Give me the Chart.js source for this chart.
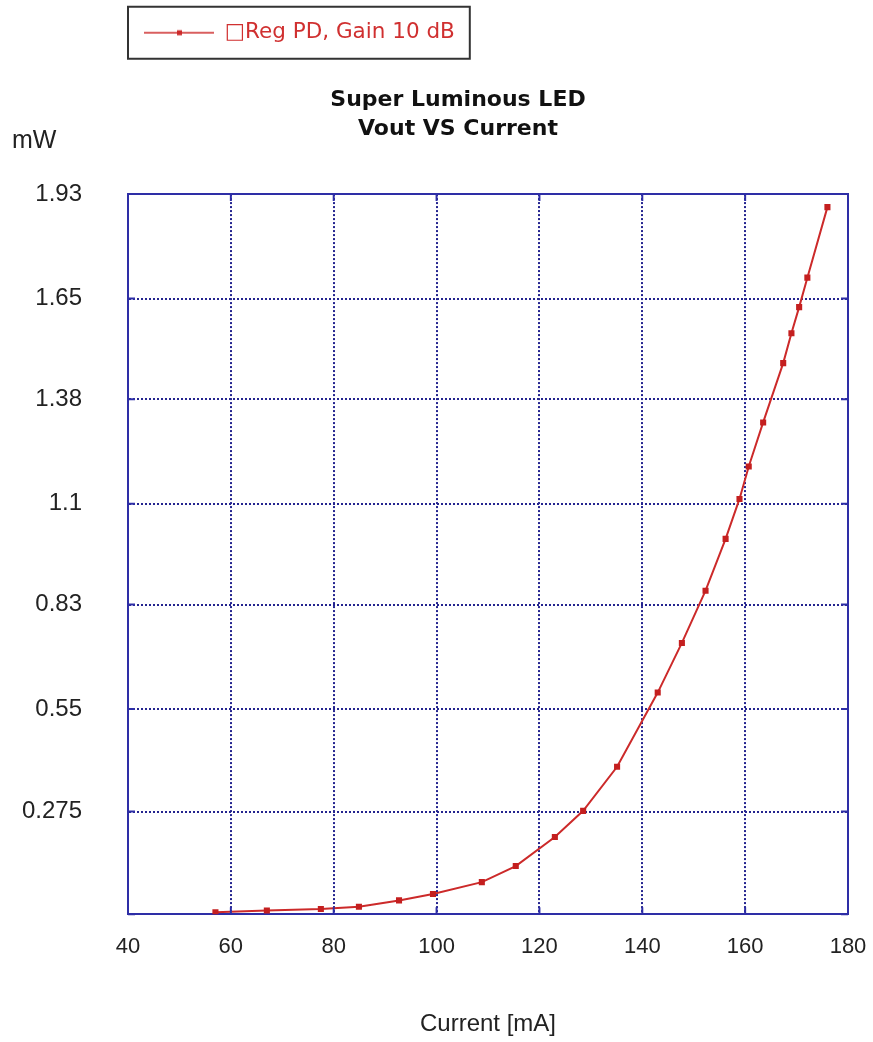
<!DOCTYPE html>
<html>
<head>
<meta charset="utf-8">
<script src="https://cdn.jsdelivr.net/npm/chart.js@4.4.1/dist/chart.umd.min.js"></script>
<style>
  html, body { margin: 0; padding: 0; background: #fff; }
  #wrap { width: 873px; height: 1042px; }
</style>
</head>
<body>
<div id="wrap"><canvas id="ledChart"></canvas></div>
<script>
// Values
const currentMA = [57.0, 67.0, 77.5, 84.9, 92.7, 99.3, 108.8, 115.4, 123.0, 128.5, 135.1, 143.0,
                   147.7, 152.3, 156.2, 158.9, 160.7, 163.5, 167.4, 169.0, 170.5, 172.1, 176.0];
const powerMW = [0.005, 0.010, 0.014, 0.020, 0.037, 0.054, 0.086, 0.129, 0.207, 0.277, 0.395, 0.594,
                 0.727, 0.867, 1.006, 1.113, 1.200, 1.318, 1.477, 1.557, 1.627, 1.706, 1.895];
const xTickValues = [40, 60, 80, 100, 120, 140, 160, 180];
const yTickValues = [0, 0.275, 0.55, 0.83, 1.1, 1.38, 1.65, 1.93];
const yTickLabels = ["", "0.275", "0.55", "0.83", "1.1", "1.38", "1.65", "1.93"];
const seriesLabel = "\u25A1Reg PD, Gain 10 dB";
const titleLines = ["Super Luminous LED", "Vout VS Current"];
const xTitle = "Current [mA]";
const yUnit = "mW";

const red = "#cc2a2a";
const axisBlue = "#2e2ea6";
const gridBlue = "#24248f";
const ctx = document.getElementById("ledChart");

// little line-with-dot picture used as the legend symbol
const legendSymbol = document.createElement("canvas");
legendSymbol.width = 70;
legendSymbol.height = 10;
const lctx = legendSymbol.getContext("2d");
lctx.strokeStyle = red;
lctx.lineWidth = 1.5;
lctx.beginPath();
lctx.moveTo(0, 5);
lctx.lineTo(70, 5);
lctx.stroke();
lctx.fillStyle = red;
lctx.fillRect(33, 2.5, 5, 5);

// legend sits in a framed box, unit label above the y axis,
// and short tick marks point into the plot from every side
const chartDecor = {
  id: "chartDecor",
  beforeDraw(chart) {
    const lg = chart.legend;
    lg.left = 144 - lg.options.labels.padding;
    // let the y labels spill left of the layout padding
    chart.scales.y.left = 0;
  },
  afterDatasetsDraw(chart) {
    const c = chart.ctx;
    const a = chart.chartArea;
    const xs = chart.scales.x;
    const ys = chart.scales.y;
    const len = 7;
    c.save();
    c.strokeStyle = axisBlue;
    c.lineWidth = 2;
    c.beginPath();
    xTickValues.forEach(v => {
      const px = xs.getPixelForValue(v);
      c.moveTo(px, a.bottom); c.lineTo(px, a.bottom - len);
      c.moveTo(px, a.top); c.lineTo(px, a.top + len);
    });
    yTickValues.forEach(v => {
      const py = ys.getPixelForValue(v);
      c.moveTo(a.left, py); c.lineTo(a.left + len, py);
      c.moveTo(a.right, py); c.lineTo(a.right - len, py);
    });
    c.stroke();
    c.restore();
  },
  afterDraw(chart) {
    const lg = chart.legend;
    const c = chart.ctx;
    const pad = lg.options.labels.padding;
    const size = lg.options.labels.font.size;
    c.save();
    c.font = size + "px 'DejaVu Sans'";
    const textW = c.measureText(lg.legendItems[0].text).width;
    const x0 = lg.left + pad - 16;
    const x1 = lg.left + pad + 70 + size / 2 + textW + 15;
    const cy = lg.top + pad + size / 2;
    c.strokeStyle = "#333";
    c.lineWidth = 2;
    c.strokeRect(x0, cy - 26, x1 - x0, 52);

    c.font = "25px 'Liberation Sans'";
    c.fillStyle = "#222";
    c.textBaseline = "middle";
    c.textAlign = "left";
    c.fillText(yUnit, 12, 141);
    c.restore();
  }
};

new Chart(ctx, {
  type: "line",
  data: {
    datasets: [
      {
        label: seriesLabel,
        data: currentMA.map((x, i) => ({ x: x, y: powerMW[i] })),
        borderColor: red,
        backgroundColor: red,
        borderWidth: 2,
        pointStyle: "rect",
        pointRadius: 4.3,
        pointBorderWidth: 0,
        pointBackgroundColor: "#c41f1f",
        tension: 0
      }
    ]
  },
  options: {
    responsive: true,
    maintainAspectRatio: false,
    animation: false,
    layout: { padding: { left: 68, right: 25, top: 10, bottom: 0 } },
    plugins: {
      legend: {
        position: "top",
        align: "start",
        weight: 3000,
        labels: {
          usePointStyle: true,
          pointStyle: legendSymbol,
          pointStyleWidth: 70,
          padding: 12,
          color: "#d03030",
          font: { family: "DejaVu Sans", size: 21.5 }
        }
      },
      title: {
        display: true,
        text: titleLines,
        color: "#111",
        font: { family: "DejaVu Sans", size: 22, weight: "bold", lineHeight: 1.32 },
        padding: { top: 32.5, bottom: 50 }
      },
      tooltip: { enabled: false }
    },
    scales: {
      x: {
        type: "linear",
        position: "bottom",
        min: 40,
        max: 180,
        afterBuildTicks: (s) => { s.ticks = xTickValues.map(v => ({ value: v })); },
        ticks: {
          color: "#222",
          padding: 0,
          maxRotation: 0,
          autoSkip: false,
          font: { family: "Liberation Sans", size: 22 }
        },
        grid: { color: gridBlue, lineWidth: 2, drawTicks: true, tickLength: 20, tickColor: "rgba(0,0,0,0)" },
        border: { color: axisBlue, width: 2, dash: [2, 2] },
        title: {
          display: true,
          text: xTitle,
          color: "#222",
          font: { family: "Liberation Sans", size: 24 },
          padding: { top: 49, bottom: 3.6 }
        }
      },
      y: {
        type: "linear",
        position: "left",
        min: 0,
        max: 1.93,
        afterBuildTicks: (s) => { s.ticks = yTickValues.map(v => ({ value: v })); },
        afterFit: (s) => { s.width = 60; },
        ticks: {
          color: "#222",
          padding: 0,
          autoSkip: false,
          font: { family: "Liberation Sans", size: 24 },
          callback: (v, i) => yTickLabels[i]
        },
        grid: { color: gridBlue, lineWidth: 2, drawTicks: true, tickLength: 46, tickColor: "rgba(0,0,0,0)" },
        border: { color: axisBlue, width: 2, dash: [2, 2] }
      },
      x2: {
        type: "linear",
        position: "top",
        ticks: { display: false },
        grid: { drawOnChartArea: false, drawTicks: false },
        border: { color: axisBlue, width: 2 }
      },
      y2: {
        type: "linear",
        position: "right",
        ticks: { display: false },
        grid: { drawOnChartArea: false, drawTicks: false },
        border: { color: axisBlue, width: 2 }
      }
    }
  },
  plugins: [chartDecor]
});
</script>
</body>
</html>
